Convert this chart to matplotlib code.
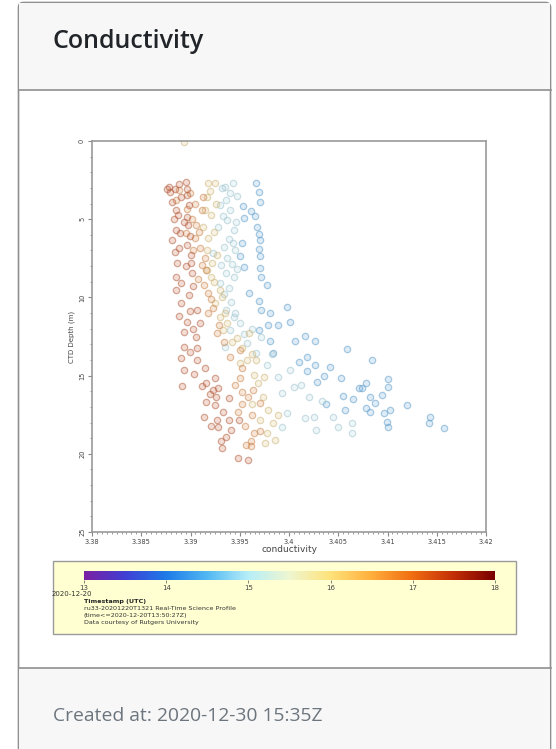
import numpy as np
import matplotlib
matplotlib.use("Agg")
import matplotlib.pyplot as plt
import matplotlib.ticker as ticker
from matplotlib.colors import LinearSegmentedColormap, Normalize
from matplotlib.patches import Rectangle, FancyBboxPatch

# profile groups: (hour of 2020-12-20 UTC, conductivity, depth)
blue_time = 14.4
blue_cond = [3.3966, 3.3970, 3.3971, 3.3953, 3.3961, 3.3965, 3.3954, 3.3968, 3.3970, 3.3971,
             3.3952, 3.3970, 3.3971, 3.3950, 3.3971, 3.3954, 3.3972, 3.3978, 3.3959, 3.3970,
             3.3972, 3.3981, 3.3998, 3.4001, 3.3989, 3.3979, 3.3970, 3.3981, 3.4006, 3.4016,
             3.4026, 3.3984, 3.4018, 3.4059, 3.4084, 3.4010, 3.4018, 3.4026, 3.4042, 3.4028,
             3.4036, 3.4053, 3.4071, 3.4074, 3.4078, 3.4101, 3.4101, 3.4094, 3.4082, 3.4055,
             3.4065, 3.4087, 3.4078, 3.4082, 3.4120, 3.4103, 3.4096, 3.4099, 3.4101, 3.4143,
             3.4142, 3.4157, 3.4038, 3.4057]
blue_depth = [2.68, 3.26, 3.87, 4.13, 4.45, 4.77, 4.94, 5.53, 5.96, 6.34,
              6.51, 6.89, 7.36, 7.36, 8.09, 8.04, 8.68, 9.21, 9.70, 10.21,
              10.81, 11.02, 10.64, 11.55, 11.77, 11.77, 12.09, 12.77, 12.77, 12.45,
              12.77, 13.53, 13.79, 13.32, 14.00, 14.11, 14.68, 14.32, 14.43, 15.38,
              15.02, 15.17, 15.81, 15.81, 15.49, 15.23, 15.74, 16.23, 16.34, 16.30,
              16.51, 16.72, 17.09, 17.30, 16.87, 17.23, 17.40, 17.94, 18.26, 17.66,
              18.04, 18.32, 16.81, 17.19]

cyan_time = 15.0
cyan_cond = [3.3935, 3.3943, 3.3940, 3.3936, 3.3940, 3.3937, 3.3944, 3.3939, 3.3934, 3.3945,
             3.3937, 3.3942, 3.3936, 3.3944, 3.3930, 3.3939, 3.3941, 3.3936, 3.3944, 3.3940,
             3.3954, 3.3935, 3.3957, 3.3966, 3.3978, 3.3989, 3.4001, 3.3993, 3.4005, 3.4020,
             3.4025, 3.4027, 3.4045, 3.4064, 3.4064, 3.3998, 3.3993, 3.3923, 3.3928, 3.3930,
             3.3950, 3.3972, 3.3932, 3.3947, 3.3933, 3.3946, 3.3943, 3.3931, 3.3947, 3.3934,
             3.3945, 3.3962, 3.3983, 3.4012, 3.4034, 3.4016, 3.4050]
cyan_depth = [2.94, 2.68, 3.32, 3.79, 4.43, 5.06, 5.70, 6.26, 6.77, 6.98,
              7.51, 7.87, 8.47, 8.72, 9.11, 9.43, 10.28, 10.81, 11.28, 12.09,
              12.34, 13.15, 12.94, 13.57, 14.32, 15.06, 14.64, 16.13, 15.70, 16.34,
              17.62, 18.47, 17.62, 18.04, 18.68, 17.40, 18.26, 7.19, 5.49, 4.11,
              11.66, 12.51, 3.00, 3.50, 4.80, 5.20, 6.50, 7.90, 8.20, 9.80,
              11.00, 12.00, 13.60, 15.60, 16.60, 17.70, 18.30]

yellow_time = 16.1
yellow_cond = [3.3918, 3.3917, 3.3921, 3.3913, 3.3918, 3.3917, 3.3922, 3.3917, 3.3924, 3.3930,
               3.3925, 3.3930, 3.3933, 3.3942, 3.3952, 3.3957, 3.3964, 3.3969, 3.3974, 3.3979,
               3.3984, 3.3978, 3.3986, 3.3971, 3.3966, 3.3950, 3.3959, 3.3937, 3.3893, 3.3925,
               3.3920, 3.3926, 3.3915, 3.3924, 3.3927, 3.3921, 3.3932, 3.3935, 3.3947, 3.3962,
               3.3975, 3.3962, 3.3989, 3.3976]
yellow_depth = [2.68, 3.57, 4.74, 5.49, 6.23, 6.98, 7.83, 8.26, 9.00, 9.53,
                10.38, 11.23, 12.09, 12.83, 13.26, 14.00, 14.96, 15.49, 16.34, 17.19,
                18.04, 18.68, 19.11, 17.83, 14.00, 14.21, 12.30, 11.66, 0.05, 2.70,
                3.20, 4.00, 4.40, 5.80, 7.30, 8.70, 10.00, 11.00, 12.60, 13.60,
                15.10, 16.80, 17.50, 19.30]

orange_time = 16.8
orange_cond = [3.3913, 3.3912, 3.3906, 3.3905, 3.3910, 3.3915, 3.3916, 3.3914, 3.3918, 3.3923,
               3.3929, 3.3934, 3.3950, 3.3952, 3.3950, 3.3952, 3.3952, 3.3962, 3.3964, 3.3971,
               3.3961, 3.3956, 3.3961, 3.3963, 3.3971, 3.3888, 3.3885, 3.3896, 3.3895, 3.3899,
               3.3905, 3.3902, 3.3909, 3.3903, 3.3912, 3.3908, 3.3921, 3.3918, 3.3927, 3.3940,
               3.3945, 3.3958, 3.3948, 3.3955]
orange_depth = [3.57, 4.43, 5.34, 6.23, 6.87, 7.51, 8.26, 9.21, 9.74, 10.70,
                11.77, 12.83, 13.36, 14.53, 15.17, 16.02, 16.81, 17.51, 18.68, 18.57,
                19.21, 19.43, 19.53, 15.91, 16.77, 3.15, 3.79, 4.32, 5.91, 3.30,
                4.00, 5.00, 5.80, 7.00, 7.90, 8.80, 10.10, 11.00, 12.30, 13.80,
                15.60, 16.40, 17.30, 18.20]

brown_time = 17.3
brown_cond = [3.3878, 3.3879, 3.3888, 3.3895, 3.3896, 3.3896, 3.3881, 3.3885, 3.3896, 3.3883,
              3.3897, 3.3885, 3.3889, 3.3881, 3.3888, 3.3896, 3.3900, 3.3886, 3.3901, 3.3885,
              3.3902, 3.3885, 3.3898, 3.3890, 3.3907, 3.3896, 3.3910, 3.3893, 3.3906, 3.3907,
              3.3893, 3.3890, 3.3907, 3.3893, 3.3915, 3.3925, 3.3891, 3.3916, 3.3928, 3.3926,
              3.3916, 3.3925, 3.3939, 3.3914, 3.3927, 3.3939, 3.3928, 3.3941, 3.3931, 3.3932,
              3.3949, 3.3948, 3.3958, 3.3923, 3.3912, 3.3876, 3.3884, 3.3890, 3.3898, 3.3887,
              3.3893, 3.3899, 3.3884, 3.3895, 3.3890, 3.3903, 3.3899, 3.3888, 3.3903, 3.3899,
              3.3904, 3.3920, 3.3933, 3.3921, 3.3936]
brown_depth = [2.94, 3.26, 2.77, 2.62, 3.04, 3.47, 3.89, 4.43, 4.85, 4.96,
               5.38, 5.70, 5.91, 6.34, 6.87, 6.66, 7.30, 7.83, 7.83, 8.68,
               8.47, 9.53, 9.85, 10.38, 10.81, 11.55, 11.66, 12.19, 12.51, 13.26,
               13.19, 13.89, 14.00, 14.64, 14.53, 15.17, 15.66, 15.49, 15.81, 16.34,
               16.66, 16.87, 16.45, 17.62, 17.83, 17.83, 18.30, 18.47, 19.15, 19.64,
               17.83, 20.28, 20.38, 15.91, 15.66, 3.05, 3.10, 3.60, 4.10, 4.70,
               5.20, 6.10, 7.10, 8.00, 9.10, 9.30, 10.90, 11.20, 12.00, 13.50,
               14.90, 16.20, 17.30, 18.20, 18.90]

groups = [(blue_time, blue_cond, blue_depth), (cyan_time, cyan_cond, cyan_depth),
          (yellow_time, yellow_cond, yellow_depth), (orange_time, orange_cond, orange_depth),
          (brown_time, brown_cond, brown_depth)]

cbar_ticks = [13, 14, 15, 16, 17, 18]
x_ticks = [3.38, 3.385, 3.39, 3.395, 3.4, 3.405, 3.41, 3.415, 3.42]
x_ticklabels = ["3.38", "3.385", "3.39", "3.395", "3.4", "3.405", "3.41", "3.415", "3.42"]
y_ticks = [0, 5, 10, 15, 20, 25]

cmap = LinearSegmentedColormap.from_list("erddap", [
    (0.0, "#7b1fa2"), (0.1, "#3f3fd4"), (0.2, "#1e7be8"), (0.3, "#52b8f2"),
    (0.4, "#b6eef8"), (0.5, "#eef6d0"), (0.6, "#ffe27a"), (0.7, "#ffae3c"),
    (0.8, "#f06c10"), (0.9, "#c22e06"), (1.0, "#7a0000")])
norm = Normalize(13, 18)

W, H = 556, 749
fig = plt.figure(figsize=(W / 100, H / 100), dpi=100)

# card background in pixel coordinates
bg = fig.add_axes([0, 0, 1, 1])
bg.set_xlim(0, W)
bg.set_ylim(H, 0)
bg.axis("off")
bg.add_patch(FancyBboxPatch((18.5, 2.5), 532, 760, boxstyle="round,pad=0,rounding_size=5",
                            fc="white", ec="#8f8f8f", lw=1.2))
bg.add_patch(Rectangle((19.2, 3.2), 530.6, 86.8, fc="#f7f7f7", ec="none"))
bg.plot([19, 550.5], [90, 90], color="#8f8f8f", lw=1.2)
bg.add_patch(Rectangle((19.2, 668), 530.6, 90, fc="#f7f7f7", ec="none"))
bg.plot([19, 550.5], [668, 668], color="#8f8f8f", lw=1.2)
bg.text(53, 42, "Conductivity", fontsize=18, family="Open Sans", fontweight="semibold",
        color="#212529", va="center", ha="left")
bg.text(53, 716, "Created at: 2020-12-30 15:35Z", fontsize=13.9, family="Open Sans",
        color="#6c757d", va="center", ha="left")

# legend box
bg.add_patch(Rectangle((53, 561), 463, 73, fc="#ffffd2", ec="#9a9a9a", lw=1))
bg.text(52, 594, "2020-12-20", fontsize=5, color="#333333", va="center")
bg.text(84, 601.5, "Timestamp (UTC)", fontsize=4.6, fontweight="bold", color="#222222", va="center")
bg.text(84, 608.5, "ru33-20201220T1321 Real-Time Science Profile", fontsize=4.6, color="#333333", va="center")
bg.text(84, 615.5, "(time<=2020-12-20T13:50:27Z)", fontsize=4.6, color="#333333", va="center")
bg.text(84, 622.5, "Data courtesy of Rutgers University", fontsize=4.6, color="#333333", va="center")

# scatter axes
ax = fig.add_axes([92 / W, 1 - 532 / H, 394 / W, 391 / H])
grey = np.array([0.5, 0.5, 0.55])
for t, c, d in groups:
    col = np.array(cmap(norm(t))[:3])
    face = 0.75 * col + 0.25 * grey
    edge = 0.6 * col + 0.4 * grey
    ax.scatter(c, d, s=21, facecolor=(*face, 0.2),
               edgecolor=(*edge, 0.5), linewidths=0.9)

ax.set_xlim(3.38, 3.42)
ax.set_ylim(25, 0)
ax.set_xticks(x_ticks)
ax.set_xticklabels(x_ticklabels)
ax.xaxis.set_minor_locator(ticker.MultipleLocator(0.0005))
ax.set_yticks(y_ticks)
ax.set_yticklabels([str(v) for v in y_ticks], rotation=90, va="center")
ax.yaxis.set_minor_locator(ticker.MultipleLocator(1))
ax.tick_params(which="major", length=3, width=0.8, color="#888888", labelsize=4.8,
               labelcolor="#444444", pad=2)
ax.tick_params(which="minor", length=1.5, width=0.6, color="#888888")
for sp in ax.spines.values():
    sp.set_color("#999999")
    sp.set_linewidth(1.2)
ax.set_xlabel("conductivity", fontsize=6.5, color="#444444", labelpad=0)
ax.set_ylabel("CTD Depth (m)", fontsize=5, color="#444444", labelpad=3)

# colorbar
cax = fig.add_axes([84 / W, 1 - 580 / H, 411 / W, 9 / H])
sm = plt.cm.ScalarMappable(norm=norm, cmap=cmap)
cb = fig.colorbar(sm, cax=cax, orientation="horizontal", ticks=cbar_ticks)
cb.outline.set_visible(False)
cb.ax.tick_params(length=2, width=0.5, color="#555555", labelsize=5, labelcolor="#444444", pad=1.5)

fig.savefig("out.png", dpi=100)
